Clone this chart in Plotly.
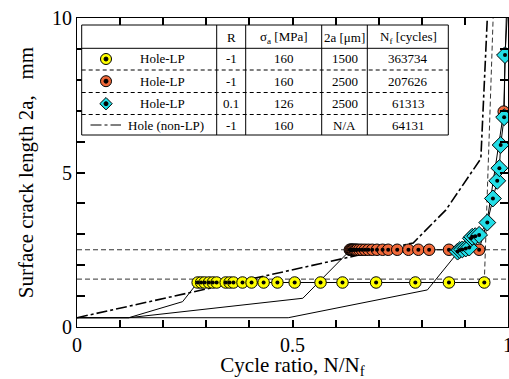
import plotly.graph_objects as go

FONT = "Liberation Serif, Times New Roman, serif"

# ---------------- data ----------------
# Hole-LP, R=-1, 2a=1500 (yellow)
yel_x = [0.280, 0.288, 0.296, 0.306, 0.315, 0.324, 0.345, 0.354, 0.363, 0.384,
         0.405, 0.433, 0.465, 0.505, 0.565, 0.616, 0.694, 0.785, 0.863, 0.945]
yel_y = [1.44] * len(yel_x)
yel_line_x = [0.0, 0.12, 0.245, 0.280] + yel_x
yel_line_y = [0.30, 0.30, 0.82, 1.44] + yel_y
yel_ext_x = [0.945, 0.9655]
yel_ext_y = [1.44, 10.0]

# Hole-LP, R=-1, 2a=2500 (orange)
org_x = [0.633, 0.635, 0.637, 0.639, 0.641, 0.644, 0.647, 0.650, 0.655, 0.661,
         0.668, 0.676, 0.685, 0.696, 0.709, 0.722, 0.743, 0.769, 0.792, 0.817,
         0.863, 0.933, 0.990]
org_y = [2.5] * 22 + [6.97]
org_line_x = [0.0, 0.12, 0.524] + org_x[:-1] + [0.952, 0.990, 0.996]
org_line_y = [0.30, 0.30, 0.93] + org_y[:-1] + [3.45, 6.97, 10.0]

# Hole-LP, R=0.1, 2a=2500 (cyan)
cyn_x = [0.883, 0.888, 0.894, 0.902, 0.910, 0.914, 0.917, 0.924, 0.933, 0.952,
         0.965, 0.975, 0.980, 0.983, 0.991, 0.993]
cyn_y = [2.44, 2.49, 2.51, 2.54, 2.57, 2.87, 2.92, 2.94, 2.98, 3.38,
         4.16, 4.73, 5.14, 5.89, 6.79, 8.80]
cyn_line_x = [0.0, 0.49, 0.813] + cyn_x + [0.998]
cyn_line_y = [0.30, 0.30, 1.20] + cyn_y + [10.0]

# Hole (non-LP)
non_x = [0.0, 0.78, 0.856, 0.937, 0.952]
non_y = [0.30, 2.72, 3.79, 5.45, 10.0]

# reference crack lengths (dashed)
ref_levels = [1.55, 2.5]

# axis ticks
x_ticks = [0, 0.5, 1]
x_ticktext = ["0", "0.5", "1"]
y_ticks = [0, 5, 10]
y_ticktext = ["0", "5", "10"]

# legend table content
hdr = ["R", "σ<sub>a</sub> [MPa]", "2a [μm]", "N<sub>f</sub> [cycles]"]
row_names = ["Hole-LP", "Hole-LP", "Hole-LP", "Hole (non-LP)"]
col_R = ["-1", "-1", "0.1", "-1"]
col_sig = ["160", "160", "126", "160"]
col_2a = ["1500", "2500", "2500", "N/A"]
col_Nf = ["363734", "207626", "61313", "64131"]

YEL, ORG, CYN = "#ffff00", "#f0693a", "#22dde6"
NONLP_DASH = "11px,3px,3px,3px"

fig = go.Figure()

for lv in ref_levels:
    fig.add_trace(go.Scatter(x=[0, 1], y=[lv, lv], mode="lines",
                             line=dict(color="#333", width=1, dash="5px,3px"),
                             showlegend=False, hoverinfo="skip"))
fig.add_trace(go.Scatter(x=yel_ext_x, y=yel_ext_y, mode="lines",
                         line=dict(color="#333", width=1, dash="5px,3px"), showlegend=False))
fig.add_trace(go.Scatter(x=non_x, y=non_y, mode="lines",
                         line=dict(color="black", width=1.6, dash=NONLP_DASH), showlegend=False))
for lx, ly in [(yel_line_x, yel_line_y), (org_line_x, org_line_y), (cyn_line_x, cyn_line_y)]:
    fig.add_trace(go.Scatter(x=lx, y=ly, mode="lines",
                             line=dict(color="black", width=1), showlegend=False))

mk = dict(line=dict(color="black", width=1))
for xs, ys, col, sym in [(yel_x, yel_y, YEL, "circle"), (org_x, org_y, ORG, "circle"),
                         (cyn_x, cyn_y, CYN, "diamond")]:
    fig.add_trace(go.Scatter(x=xs, y=ys, mode="markers",
                             marker=dict(symbol=sym, size=11.5 if sym == "circle" else 13,
                                         color=col, **mk), showlegend=False))
    fig.add_trace(go.Scatter(x=xs, y=ys, mode="markers",
                             marker=dict(symbol="circle", size=4, color="black"),
                             showlegend=False, hoverinfo="skip"))

# ---------------- legend table (shapes in paper coords, from pixel layout) ----------------
L, R, T, B = 77, 508, 18, 327
def px(x): return (x - L) / (R - L)
def py(y): return (B - y) / (B - T)

tx0, tx1, ty0, ty1 = 81.7, 448.3, 25, 135
col_edges = [216.7, 245.7, 321.7, 367.3]
row_seps = [70, 92.5, 114.5]
hdr_sep = 48.3
row_c = [59.0, 81.2, 103.7, 125.0]
col_c = [231.2, 283.7, 344.5, 408.0]

shapes = []
def sline(x0, y0, x1, y1, dash="solid", w=1):
    shapes.append(dict(type="line", xref="paper", yref="paper", layer="above",
                       x0=px(x0), y0=py(y0), x1=px(x1), y1=py(y1),
                       line=dict(color="black", width=w, dash=dash)))

shapes.append(dict(type="rect", xref="paper", yref="paper", layer="above",
                   x0=px(tx0), x1=px(tx1), y0=py(ty1), y1=py(ty0),
                   fillcolor="white", line=dict(color="black", width=1)))
for cx in col_edges:
    sline(cx, ty0, cx, ty1)
sline(tx0, hdr_sep, tx1, hdr_sep)
for ry in row_seps:
    sline(tx0, ry, tx1, ry, dash="4px,3px")

def circ(cx, cy, r, fill):
    shapes.append(dict(type="circle", xref="paper", yref="paper", layer="above",
                       x0=px(cx - r), x1=px(cx + r), y0=py(cy + r), y1=py(cy - r),
                       fillcolor=fill, line=dict(color="black", width=1)))

mx = 106
circ(mx, row_c[0], 5.5, YEL); circ(mx, row_c[0], 2, "black")
circ(mx, row_c[1], 5.5, ORG); circ(mx, row_c[1], 2, "black")
d = 6.2
cy = row_c[2]
path = "M {},{} L {},{} L {},{} L {},{} Z".format(px(mx), py(cy - d), px(mx + d), py(cy),
                                                 px(mx), py(cy + d), px(mx - d), py(cy))
shapes.append(dict(type="path", xref="paper", yref="paper", layer="above", path=path,
                   fillcolor=CYN, line=dict(color="black", width=1)))
circ(mx, cy, 2, "black")
sline(90.5, row_c[3], 121, row_c[3], dash=NONLP_DASH)

ann = []
def txt(x, y, s):
    ann.append(dict(x=px(x), y=py(y), xref="paper", yref="paper", text=s, showarrow=False,
                    xanchor="center", yanchor="middle",
                    font=dict(family=FONT, size=13, color="black")))

for c, h in zip(col_c, hdr):
    txt(c, 37, h)
for i in range(4):
    txt(162 if i < 3 else 166, row_c[i], row_names[i])
    txt(col_c[0], row_c[i], col_R[i])
    txt(col_c[1], row_c[i], col_sig[i])
    txt(col_c[2], row_c[i], col_2a[i])
    txt(col_c[3], row_c[i], col_Nf[i])

TW = 1.5
fig.update_layout(
    width=509, height=379,
    margin=dict(l=77, r=1, t=18, b=52),
    paper_bgcolor="white", plot_bgcolor="white",
    annotations=ann, shapes=shapes,
    xaxis=dict(range=[0, 1], tickvals=x_ticks, ticktext=x_ticktext, automargin=False,
               showline=True, linecolor="black", mirror="allticks",
               ticks="inside", ticklen=7, tickcolor="black", tickwidth=TW,
               minor=dict(dtick=0.1, ticks="inside", ticklen=7, tickcolor="black", tickwidth=TW),
               showgrid=False, zeroline=False, ticklabeloverflow="allow",
               tickfont=dict(family=FONT, size=20, color="black"),
               title=dict(text="Cycle ratio, N/N<sub>f</sub>",
                          font=dict(family=FONT, size=21, color="black"), standoff=8)),
    yaxis=dict(range=[0, 10], tickvals=y_ticks, ticktext=y_ticktext, automargin=False,
               showline=True, linecolor="black", mirror="allticks",
               ticks="inside", ticklen=8, tickcolor="black", tickwidth=TW,
               minor=dict(dtick=1, ticks="inside", ticklen=8, tickcolor="black", tickwidth=TW),
               showgrid=False, zeroline=False, ticklabeloverflow="allow",
               tickfont=dict(family=FONT, size=20, color="black"),
               title=dict(text="Surface crack length 2a,\u00a0\u00a0\u00a0mm",
                          font=dict(family=FONT, size=21, color="black"), standoff=12)),
)

fig.write_html("out.html")
